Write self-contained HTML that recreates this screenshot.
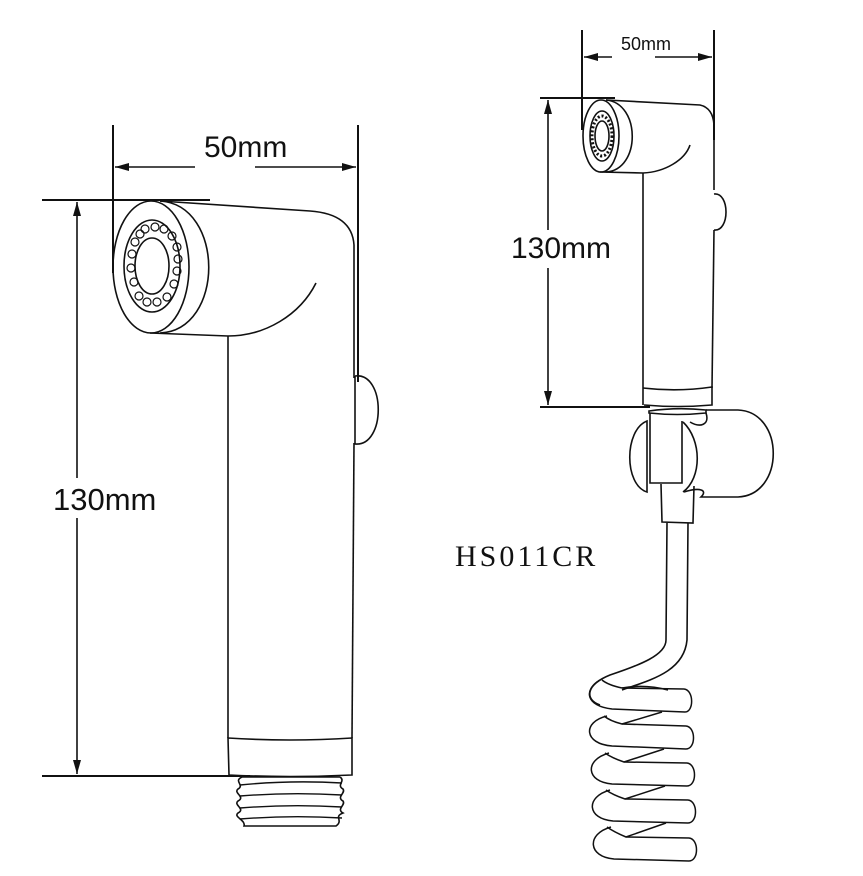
<!DOCTYPE html>
<html><head><meta charset="utf-8"><style>
html,body{margin:0;padding:0;background:#fff;}
svg{display:block;}
text{font-family:"Liberation Sans",sans-serif;fill:#111;}
</style></head><body>
<svg width="863" height="876" viewBox="0 0 863 876" xmlns="http://www.w3.org/2000/svg">
<defs>
<marker id="a" markerWidth="14" markerHeight="8" refX="14" refY="4" orient="auto" markerUnits="userSpaceOnUse"><path d="M0,0 L14,4 L0,8 Z" fill="#111"/></marker>
</defs>
<g fill="none" stroke="#111" stroke-width="1.6">
<line x1="113" y1="125" x2="113" y2="273" stroke-width="2"/>
<line x1="358" y1="125" x2="358" y2="382" stroke-width="2"/>
<line x1="195" y1="167" x2="115" y2="167" marker-end="url(#a)"/>
<line x1="255" y1="167" x2="356" y2="167" marker-end="url(#a)"/>
<line x1="42" y1="200" x2="210" y2="200" stroke-width="2"/>
<line x1="42" y1="776" x2="250" y2="776" stroke-width="2"/>
<line x1="77" y1="478" x2="77" y2="202" marker-end="url(#a)"/>
<line x1="77" y1="518" x2="77" y2="774" marker-end="url(#a)"/>
<ellipse cx="151" cy="267" rx="38" ry="66"/>
<ellipse cx="152" cy="266" rx="28" ry="46"/>
<ellipse cx="152" cy="266" rx="17" ry="28"/>
<g stroke-width="1.2">
<circle cx="145" cy="229" r="4"/><circle cx="155" cy="227" r="4"/><circle cx="164" cy="229" r="4"/><circle cx="172" cy="236" r="4"/><circle cx="177" cy="247" r="4"/><circle cx="178" cy="259" r="4"/><circle cx="177" cy="271" r="4"/><circle cx="174" cy="284" r="4"/><circle cx="167" cy="297" r="4"/><circle cx="157" cy="302" r="4"/><circle cx="147" cy="302" r="4"/><circle cx="139" cy="296" r="4"/><circle cx="134" cy="282" r="4"/><circle cx="131" cy="268" r="4"/><circle cx="132" cy="254" r="4"/><circle cx="135" cy="242" r="4"/><circle cx="140" cy="234" r="4"/>
</g>
<path d="M160,201 C225,205 225,330 160,333"/>
<path d="M160,201 L310,211 Q352,214 354,245 L354,378"/>
<path d="M150,333 L228,336 C265,336 300,315 316,283"/>
<line x1="228" y1="336" x2="228" y2="738"/>
<line x1="354" y1="443" x2="352" y2="738"/>
<path d="M355,376 C386,372 386,447 355,444 L355,376"/>
<path d="M228,738 Q290,742 352,738 L352,775 Q290,778 229,775 Z"/>
<path d="M242,777 L340,777 M242,777 C233,781 245,785 238,789 C233,793 246,797 238,801 C233,805 246,809 238,813 C233,817 246,820 244,826 L336,826 C344,820 333,817 343,813 C336,809 346,805 343,801 C336,797 346,793 343,789 C336,785 346,781 340,777"/>
<path d="M240,785 Q290,780 342,783 M240,796 Q290,792 342,795 M240,808 Q290,804 342,807 M240,819 Q290,815 342,818" stroke-width="1.4"/>
<line x1="582" y1="30" x2="582" y2="130" stroke-width="2"/>
<line x1="714" y1="30" x2="714" y2="140" stroke-width="2"/>
<line x1="612" y1="57" x2="584" y2="57" marker-end="url(#a)"/>
<line x1="655" y1="57" x2="712" y2="57" marker-end="url(#a)"/>
<line x1="540" y1="98" x2="615" y2="98" stroke-width="2"/>
<line x1="540" y1="407" x2="650" y2="407" stroke-width="2"/>
<line x1="548" y1="230" x2="548" y2="100" marker-end="url(#a)"/>
<line x1="548" y1="268" x2="548" y2="405" marker-end="url(#a)"/>
<ellipse cx="601" cy="136" rx="18" ry="36"/>
<ellipse cx="602" cy="136" rx="12" ry="25"/>
<ellipse cx="602" cy="136" rx="7" ry="15"/>
<ellipse cx="602" cy="136" rx="10" ry="20" stroke-width="3" stroke-dasharray="2 2"/>
<path d="M606,100 C641,103 641,170 606,172"/>
<path d="M606,100 L700,105 Q713,108 714,125 L714,190"/>
<path d="M600,172 L643,173 C665,172 685,160 690,145"/>
<line x1="643" y1="173" x2="643" y2="405"/>
<line x1="714" y1="230" x2="712" y2="388"/>
<path d="M714,194 C730,192 730,232 714,230"/>
<path d="M643,388 Q678,392 712,387 L712,405 Q678,408 644,405"/>
<path d="M649,411 Q677,407 706,410 L706,413 Q677,416 649,413 Z"/>
<path d="M650,413 L650,483 L682,483 L682,421"/>
<path d="M647,421 C624,430 624,485 647,492 Z"/>
<path d="M683,422 C702,440 702,478 683,492"/>
<path d="M706,413 C710,425 700,428 690,422 M706,410 L738,410 C785,412 785,495 738,497 L701,497 C708,490 700,487 684,492"/>
<path d="M661,484 L662,522 L693,523 L694,486"/>
<path d="M667,523 L666,640 C666,655 640,665 610,675 C585,685 585,700 600,705"/>
<path d="M688,523 L687,640 C684,672 650,680 622,690"/>
<g stroke-width="1.5">
<path d="M600,680 C583,690 586,706 612,709 L685,712 C694,712 694,690 684,689 L622,688"/>
<path d="M602,680 Q608,685 622,688"/>
<path d="M622,688 Q645,684 668,690" />
<path d="M607,716 C582,722 584,744 612,746 L686,749 C696,749 696,727 686,726 L622,724"/>
<path d="M604,716 Q610,721 622,724 L662,712"/>
<path d="M609,753 C584,760 586,782 612,784 L687,786 C697,786 697,764 687,763 L624,762"/>
<path d="M605,753 Q612,758 624,762 L664,749"/>
<path d="M610,790 C585,797 587,819 613,821 L688,823 C698,823 698,801 688,800 L625,799"/>
<path d="M606,790 Q613,795 625,799 L665,786"/>
<path d="M611,827 C586,834 588,857 614,859 L689,861 C699,861 699,839 689,838 L626,837"/>
<path d="M607,827 Q614,832 626,837 L666,823"/>
</g>
</g>
<text x="204" y="157" font-size="30">50mm</text>
<text x="53" y="510" font-size="31">130mm</text>
<text x="621" y="50" font-size="18">50mm</text>
<text x="511" y="258" font-size="30">130mm</text>
<text x="455" y="566" font-size="30" style="font-family:'Liberation Serif',serif;letter-spacing:3px">HS011CR</text>
</svg>
</body></html>
